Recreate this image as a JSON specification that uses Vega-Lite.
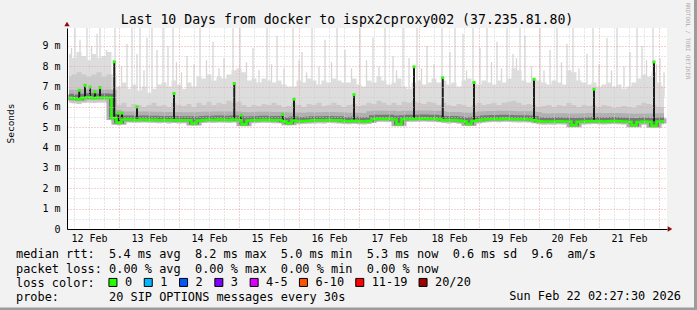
{
"$schema": "https://vega.github.io/schema/vega-lite/v6.json",
"width": 600, "height": 201,
"autosize": {"type": "none"},
"padding": {"left": 67, "top": 28, "right": 30, "bottom": 81},
"background": "#f2f2f2",
"view": {"fill": "#ffffff", "stroke": null},
"resolve": {"axis": {"x": "independent", "y": "independent"}},
"datasets": {
"one": [{}],
"smoke": [
{"t":4,"lo":6.2,"m":6.45,"d":7.5,"hi":8.6},{"t":6,"lo":6.18,"m":6.42,"d":7.6,"hi":8.4},{"t":8,"lo":6.15,"m":6.38,"d":7.7,"hi":8.7},{"t":10,"lo":6.2,"m":6.45,"d":7.6,"hi":8.5},{"t":12,"lo":6.22,"m":6.47,"d":7.5,"hi":8.3},{"t":14,"lo":6.2,"m":6.44,"d":7.6,"hi":8.6},{"t":16,"lo":6.22,"m":6.46,"d":7.7,"hi":8.4},{"t":18,"lo":6.22,"m":6.46,"d":7.5,"hi":8.5},{"t":20,"lo":6.2,"m":6.45,"d":7.6,"hi":8.7},{"t":22,"lo":5.25,"m":5.45,"d":6.6,"hi":7.6},
{"t":24,"lo":5.1,"m":5.22,"d":6.1,"hi":7.0},{"t":26,"lo":5.23,"m":5.38,"d":6.2,"hi":7.2},{"t":28,"lo":5.23,"m":5.38,"d":6.0,"hi":6.9},{"t":30,"lo":5.21,"m":5.36,"d":6.15,"hi":7.1},{"t":32,"lo":5.22,"m":5.37,"d":6.1,"hi":6.8},{"t":34,"lo":5.23,"m":5.38,"d":6.0,"hi":7.0},{"t":36,"lo":5.21,"m":5.36,"d":6.1,"hi":6.7},{"t":38,"lo":5.22,"m":5.37,"d":6.2,"hi":6.9},{"t":40,"lo":5.2,"m":5.35,"d":6.05,"hi":7.1},{"t":42,"lo":5.21,"m":5.36,"d":6.1,"hi":7.2},
{"t":44,"lo":5.19,"m":5.34,"d":6.0,"hi":7.0},{"t":46,"lo":5.21,"m":5.36,"d":6.2,"hi":7.3},{"t":48,"lo":5.18,"m":5.33,"d":6.1,"hi":7.1},{"t":50,"lo":5.2,"m":5.35,"d":6.05,"hi":6.9},{"t":52,"lo":5.19,"m":5.34,"d":6.15,"hi":7.2},{"t":54,"lo":5.08,"m":5.18,"d":6.0,"hi":7.0},{"t":56,"lo":5.18,"m":5.33,"d":6.2,"hi":7.5},{"t":58,"lo":5.21,"m":5.36,"d":6.1,"hi":7.4},{"t":60,"lo":5.22,"m":5.37,"d":6.25,"hi":7.6},{"t":62,"lo":5.21,"m":5.36,"d":6.1,"hi":7.3},
{"t":64,"lo":5.23,"m":5.38,"d":6.2,"hi":7.5},{"t":66,"lo":5.22,"m":5.37,"d":6.15,"hi":7.4},{"t":68,"lo":5.21,"m":5.36,"d":6.3,"hi":7.6},{"t":70,"lo":5.23,"m":5.38,"d":6.2,"hi":7.8},{"t":72,"lo":5.21,"m":5.36,"d":6.25,"hi":7.9},{"t":74,"lo":5.06,"m":5.15,"d":6.1,"hi":7.7},{"t":76,"lo":5.18,"m":5.33,"d":6.0,"hi":7.3},{"t":78,"lo":5.2,"m":5.35,"d":6.1,"hi":7.4},{"t":80,"lo":5.21,"m":5.36,"d":6.05,"hi":7.2},{"t":82,"lo":5.22,"m":5.37,"d":6.15,"hi":7.4},
{"t":84,"lo":5.21,"m":5.36,"d":6.1,"hi":7.3},{"t":86,"lo":5.2,"m":5.35,"d":6.2,"hi":7.2},{"t":88,"lo":5.21,"m":5.36,"d":6.1,"hi":7.3},{"t":90,"lo":5.16,"m":5.3,"d":6.0,"hi":7.1},{"t":92,"lo":5.1,"m":5.2,"d":6.05,"hi":7.0},{"t":94,"lo":5.18,"m":5.33,"d":6.2,"hi":7.0},{"t":96,"lo":5.15,"m":5.3,"d":6.1,"hi":7.3},{"t":98,"lo":5.16,"m":5.31,"d":6.0,"hi":7.2},{"t":100,"lo":5.17,"m":5.32,"d":6.15,"hi":7.4},{"t":102,"lo":5.19,"m":5.34,"d":6.1,"hi":7.3},
{"t":104,"lo":5.2,"m":5.35,"d":6.2,"hi":7.1},{"t":106,"lo":5.19,"m":5.34,"d":6.05,"hi":7.3},{"t":108,"lo":5.21,"m":5.36,"d":6.1,"hi":7.2},{"t":110,"lo":5.2,"m":5.35,"d":6.2,"hi":7.4},{"t":112,"lo":5.19,"m":5.34,"d":6.1,"hi":7.3},{"t":114,"lo":5.16,"m":5.31,"d":6.0,"hi":7.2},{"t":116,"lo":5.15,"m":5.3,"d":6.1,"hi":7.2},{"t":118,"lo":5.17,"m":5.32,"d":6.15,"hi":7.4},{"t":120,"lo":5.15,"m":5.3,"d":6.05,"hi":7.1},{"t":122,"lo":5.14,"m":5.29,"d":6.1,"hi":7.0},
{"t":124,"lo":5.16,"m":5.31,"d":6.2,"hi":7.3},{"t":126,"lo":5.25,"m":5.4,"d":6.15,"hi":7.2},{"t":128,"lo":5.27,"m":5.42,"d":6.3,"hi":7.5},{"t":130,"lo":5.26,"m":5.41,"d":6.2,"hi":7.3},{"t":132,"lo":5.27,"m":5.42,"d":6.1,"hi":7.1},{"t":134,"lo":5.23,"m":5.38,"d":6.2,"hi":7.2},{"t":136,"lo":5.07,"m":5.15,"d":6.1,"hi":7.4},{"t":138,"lo":5.25,"m":5.4,"d":6.25,"hi":7.0},{"t":140,"lo":5.27,"m":5.42,"d":6.2,"hi":6.9},{"t":142,"lo":5.26,"m":5.41,"d":6.3,"hi":7.2},
{"t":144,"lo":5.27,"m":5.42,"d":6.2,"hi":7.3},{"t":146,"lo":5.28,"m":5.43,"d":6.15,"hi":7.1},{"t":148,"lo":5.26,"m":5.41,"d":6.25,"hi":7.2},{"t":150,"lo":5.27,"m":5.42,"d":6.2,"hi":7.4},{"t":152,"lo":5.25,"m":5.4,"d":6.1,"hi":7.2},{"t":154,"lo":5.21,"m":5.36,"d":6.2,"hi":7.3},{"t":156,"lo":5.19,"m":5.34,"d":6.1,"hi":7.1},{"t":158,"lo":5.21,"m":5.36,"d":6.05,"hi":7.2},{"t":160,"lo":5.18,"m":5.33,"d":6.15,"hi":7.0},{"t":162,"lo":5.15,"m":5.3,"d":6.1,"hi":7.3},
{"t":164,"lo":5.08,"m":5.16,"d":6.0,"hi":7.4},{"t":166,"lo":5.17,"m":5.32,"d":6.1,"hi":7.2},{"t":168,"lo":5.19,"m":5.34,"d":6.2,"hi":7.1},{"t":170,"lo":5.23,"m":5.38,"d":6.1,"hi":7.3},{"t":172,"lo":5.25,"m":5.4,"d":6.15,"hi":7.2},{"t":174,"lo":5.26,"m":5.41,"d":6.2,"hi":7.1},{"t":176,"lo":5.25,"m":5.4,"d":6.1,"hi":7.3},{"t":178,"lo":5.27,"m":5.42,"d":6.2,"hi":7.2},{"t":180,"lo":5.26,"m":5.41,"d":6.25,"hi":7.4},{"t":182,"lo":5.25,"m":5.4,"d":6.3,"hi":7.9},
{"t":184,"lo":5.24,"m":5.39,"d":6.2,"hi":7.8},{"t":186,"lo":5.25,"m":5.4,"d":6.1,"hi":7.3},{"t":188,"lo":5.23,"m":5.38,"d":6.15,"hi":7.2},{"t":190,"lo":5.21,"m":5.36,"d":6.1,"hi":7.4},{"t":192,"lo":5.15,"m":5.3,"d":6.0,"hi":7.3},{"t":194,"lo":5.13,"m":5.28,"d":6.05,"hi":7.2},{"t":196,"lo":5.14,"m":5.29,"d":6.1,"hi":7.1},{"t":198,"lo":5.13,"m":5.28,"d":6.0,"hi":7.3},{"t":200,"lo":5.15,"m":5.3,"d":6.1,"hi":7.2},{"t":202,"lo":5.14,"m":5.29,"d":6.05,"hi":7.1},
{"t":204,"lo":5.13,"m":5.28,"d":6.2,"hi":7.8},{"t":206,"lo":5.02,"m":5.1,"d":6.1,"hi":7.7},{"t":208,"lo":5.12,"m":5.27,"d":6.0,"hi":7.3},{"t":210,"lo":5.14,"m":5.29,"d":6.1,"hi":7.2},{"t":212,"lo":5.15,"m":5.3,"d":6.05,"hi":7.1},{"t":214,"lo":5.16,"m":5.31,"d":6.1,"hi":7.2},{"t":216,"lo":5.15,"m":5.3,"d":6.0,"hi":7.0},{"t":218,"lo":5.14,"m":5.29,"d":6.1,"hi":7.1},{"t":220,"lo":5.15,"m":5.3,"d":6.05,"hi":7.2},{"t":222,"lo":5.16,"m":5.31,"d":5.95,"hi":7.0},
{"t":224,"lo":5.15,"m":5.3,"d":6.0,"hi":7.1},{"t":226,"lo":5.14,"m":5.29,"d":6.05,"hi":6.9},{"t":228,"lo":5.12,"m":5.27,"d":6.0,"hi":7.0},{"t":230,"lo":5.02,"m":5.1,"d":5.95,"hi":7.2},{"t":232,"lo":5.11,"m":5.26,"d":6.1,"hi":7.4},{"t":234,"lo":5.13,"m":5.28,"d":6.2,"hi":7.6},{"t":236,"lo":5.12,"m":5.27,"d":6.15,"hi":7.5},{"t":238,"lo":5.0,"m":5.08,"d":6.1,"hi":7.7},{"t":240,"lo":5.13,"m":5.28,"d":6.0,"hi":7.2},{"t":242,"lo":5.15,"m":5.3,"d":6.0,"hi":7.0}
],
"spikes": [
{"t":6.4,"v":10},{"t":8.4,"v":9.3},{"t":11.2,"v":10},{"t":15.2,"v":9.6},{"t":16.4,"v":10},{"t":22.4,"v":10},{"t":27.2,"v":9.1},{"t":29.2,"v":10},{"t":31.2,"v":8.6},{"t":32.4,"v":10},{"t":35.2,"v":9.4},{"t":37.2,"v":10},{"t":39.2,"v":8.8},{"t":41.6,"v":10},{"t":43.6,"v":9.0},{"t":45.6,"v":10},{"t":51.2,"v":8.5},{"t":56.4,"v":10},{"t":61.6,"v":9.2},{"t":69.6,"v":10},{"t":72.4,"v":10},{"t":77.6,"v":8.9},{"t":83.2,"v":10},{"t":87.2,"v":9.5},{"t":93.6,"v":10},{"t":97.2,"v":8.7},{"t":101.2,"v":10},{"t":106.4,"v":9.3},{"t":111.2,"v":10},{"t":114.4,"v":8.8},{"t":120.4,"v":10},{"t":125.6,"v":9.4},{"t":130.4,"v":10},{"t":133.6,"v":8.5},{"t":137.6,"v":10},{"t":143.2,"v":10},{"t":147.2,"v":9.0},{"t":153.2,"v":10},{"t":156.4,"v":8.7},{"t":158.4,"v":10},{"t":161.6,"v":9.6},{"t":165.6,"v":10},{"t":168.4,"v":8.9},{"t":171.2,"v":10},{"t":175.2,"v":9.2},{"t":179.2,"v":10},{"t":181.6,"v":8.6},{"t":184.4,"v":10},{"t":186.4,"v":9.5},{"t":192.4,"v":10},{"t":196.4,"v":8.8},{"t":199.2,"v":10},{"t":203.2,"v":9.1},{"t":205.6,"v":10},{"t":211.2,"v":8.6},{"t":213.6,"v":10},{"t":219.2,"v":9.4},{"t":223.2,"v":10},{"t":228.4,"v":8.7},{"t":231.2,"v":10},{"t":233.2,"v":9.0},{"t":237.6,"v":10},{"t":240.4,"v":8.4},
{"t":5,"v":8.9},{"t":13,"v":9.0},{"t":19,"v":8.8},{"t":25,"v":8.0},{"t":34,"v":7.8},{"t":47,"v":8.2},{"t":49,"v":7.7},{"t":54,"v":8.1},{"t":59,"v":8.3},{"t":64,"v":7.9},{"t":66,"v":8.4},{"t":75,"v":8.2},{"t":80,"v":7.8},{"t":85,"v":8.1},{"t":90,"v":7.9},{"t":96,"v":8.3},{"t":99,"v":7.7},{"t":104,"v":8.0},{"t":109,"v":8.2},{"t":117,"v":7.9},{"t":123,"v":8.3},{"t":128,"v":8.0},{"t":135,"v":7.8},{"t":140,"v":8.4},{"t":145,"v":7.9},{"t":150,"v":8.1},{"t":163,"v":7.8},{"t":173,"v":8.2},{"t":177,"v":7.9},{"t":183,"v":8.4},{"t":189,"v":8.0},{"t":194,"v":7.8},{"t":201,"v":8.2},{"t":208,"v":7.9},{"t":216,"v":8.1},{"t":221,"v":7.8},{"t":226,"v":8.0},{"t":235,"v":8.3},{"t":239,"v":8.1},{"t":242,"v":7.7}
],
"peaks": [
{"t":8.1,"b":6.45,"v":6.82},{"t":10.4,"b":6.45,"v":7.06},{"t":12.4,"b":6.45,"v":6.98},{"t":14.4,"b":6.45,"v":6.74},{"t":16.4,"b":6.45,"v":6.95},{"t":22.1,"b":5.4,"v":8.22},{"t":23.8,"b":5.3,"v":5.69},{"t":25.2,"b":5.3,"v":5.7},{"t":31.2,"b":5.35,"v":6.0},{"t":46.0,"b":5.35,"v":6.66},{"t":70.1,"b":5.35,"v":7.15},{"t":72.8,"b":5.35,"v":5.59},{"t":89.5,"b":5.3,"v":5.62},{"t":94.0,"b":5.3,"v":6.38},{"t":118.0,"b":5.3,"v":6.6},{"t":142.0,"b":5.4,"v":7.97},{"t":153.5,"b":5.4,"v":7.44},{"t":166.0,"b":5.3,"v":7.2},{"t":190.0,"b":5.35,"v":7.36},{"t":214.0,"b":5.3,"v":6.87},{"t":238.0,"b":5.3,"v":8.21}
]
},
"layer": [
{"data": {"name": "spikes"},
 "mark": {"type": "rule", "color": "#d6d6d6", "strokeWidth": 1.3, "clip": true},
 "encoding": {
  "x": {"field": "t", "type": "quantitative", "scale": {"domain": [3.2, 243.2], "nice": false, "zero": false},
   "axis": {"orient": "bottom", "title": null, "zindex": 1, "values": [6,12,18,24,30,36,42,48,54,60,66,72,78,84,90,96,102,108,114,120,126,132,138,144,150,156,162,168,174,180,186,192,198,204,210,216,222,228,234,240],
    "labelExpr": "datum.value % 24 == 12 ? (floor(datum.value/24)+12) + ' Feb' : ''",
    "grid": true, "gridColor": {"condition": {"test": "datum.value % 24 == 0", "value": "#eaa2a2"}, "value": "#cfcfcf"}, "gridDash": [1, 2], "gridWidth": 1,
    "ticks": false, "domainColor": "#000000", "domainWidth": 1,
    "labelFont": "DejaVu Sans Mono", "labelFontSize": 10, "labelColor": "#000000", "labelPadding": 4, "labelOverlap": false, "labelFlush": false, "labelBound": false}},
  "y": {"field": "v", "type": "quantitative", "scale": {"domain": [0, 9.88], "nice": false, "zero": false},
   "axis": {"orient": "left", "title": "Seconds", "zindex": 1, "values": [0,0.5,1,1.5,2,2.5,3,3.5,4,4.5,5,5.5,6,6.5,7,7.5,8,8.5,9,9.5],
    "labelExpr": "datum.value == 0 ? '0' : (datum.value % 1 == 0 ? datum.value + ' m' : '')",
    "grid": true, "gridColor": {"condition": {"test": "datum.value % 1 == 0", "value": "#eaa2a2"}, "value": "#cfcfcf"}, "gridDash": [1, 2], "gridWidth": 1,
    "ticks": false, "domainColor": "#000000", "domainWidth": 1,
    "labelFont": "DejaVu Sans Mono", "labelFontSize": 10, "labelColor": "#000000", "labelPadding": 7,
    "titleX": -57, "titleY": 95, "titleAngle": 270, "titleFont": "DejaVu Sans Mono", "titleFontSize": 9.5, "titleFontWeight": "normal", "titleColor": "#000000", "titleBaseline": "middle", "titleAlign": "center"}},
  "y2": {"datum": 6.5}
 }},
{"data": {"name": "smoke"},
 "mark": {"type": "area", "interpolate": "step", "color": "#dddddd", "clip": true},
 "encoding": {"x": {"field": "t", "type": "quantitative", "axis": null}, "y": {"field": "hi", "type": "quantitative", "axis": null}, "y2": {"field": "lo"}}},
{"data": {"name": "smoke"},
 "mark": {"type": "area", "interpolate": "step", "color": "#cacaca", "clip": true},
 "encoding": {"x": {"field": "t", "type": "quantitative", "axis": null}, "y": {"field": "d", "type": "quantitative", "axis": null}, "y2": {"field": "lo"}}},
{"data": {"name": "smoke"},
 "mark": {"type": "line", "interpolate": "step", "color": "#b0b0b0", "strokeWidth": 10, "yOffset": -3, "clip": true},
 "encoding": {"x": {"field": "t", "type": "quantitative", "axis": null}, "y": {"field": "m", "type": "quantitative", "axis": null}}},
{"data": {"name": "smoke"},
 "mark": {"type": "line", "interpolate": "step", "color": "#777777", "strokeWidth": 5, "yOffset": -1.5, "clip": true},
 "encoding": {"x": {"field": "t", "type": "quantitative", "axis": null}, "y": {"field": "m", "type": "quantitative", "axis": null}}},
{"data": {"name": "peaks"},
 "mark": {"type": "rule", "color": "#1c1c1c", "strokeWidth": 2, "clip": true},
 "encoding": {"x": {"field": "t", "type": "quantitative", "axis": null}, "y": {"field": "v", "type": "quantitative", "axis": null}, "y2": {"field": "b"}}},
{"data": {"name": "smoke"},
 "mark": {"type": "line", "interpolate": "step", "color": "#26ff00", "strokeWidth": 2.5, "clip": true},
 "encoding": {"x": {"field": "t", "type": "quantitative", "axis": null}, "y": {"field": "m", "type": "quantitative", "axis": null}}},
{"data": {"name": "peaks"},
 "mark": {"type": "point", "shape": "square", "filled": true, "size": 9, "opacity": 1, "clip": true},
 "encoding": {"x": {"field": "t", "type": "quantitative", "axis": null}, "y": {"field": "v", "type": "quantitative", "axis": null},
  "color": {"datum": "0", "type": "nominal",
   "scale": {"domain": ["0","1","2","3","4-5","6-10","11-19","20/20"], "range": ["#26ff00","#00b8ff","#0059ff","#7e00ff","#dd00ff","#ff5500","#ff0000","#a10000"]},
   "legend": {"orient": "none", "legendX": 40, "legendY": 248.5, "direction": "horizontal", "columns": 8, "gridAlign": "none", "title": null,
    "symbolType": "square", "symbolSize": 64, "symbolStrokeColor": "#000000", "symbolStrokeWidth": 1, "symbolOpacity": 1,
    "labelFont": "DejaVu Sans Mono", "labelFontSize": 11.9, "labelColor": "#000000", "labelOffset": 6, "columnPadding": 8.3, "padding": 0, "labelLimit": 0,
    "encode": {"symbols": {"update": {"stroke": {"value": "#000000"}, "strokeWidth": {"value": 1}, "opacity": {"value": 1}}}}}}}},
{"data": {"name": "one"},
 "mark": {"type": "text", "align": "center", "baseline": "alphabetic", "font": "DejaVu Sans Mono", "fontSize": 13.2, "color": "#000000"},
 "encoding": {"x": {"datum": 115.2, "type": "quantitative", "axis": null}, "y": {"datum": 10.08, "type": "quantitative", "axis": null}, "text": {"value": "Last 10 Days from docker to ispx2cproxy002 (37.235.81.80)"}}},
{"data": {"name": "one"},
 "mark": {"type": "text", "align": "left", "baseline": "alphabetic", "font": "DejaVu Sans Mono", "fontSize": 11.9, "lineHeight": 14.1, "color": "#000000"},
 "encoding": {"x": {"datum": -17.2, "type": "quantitative", "axis": null}, "y": {"datum": -1.45, "type": "quantitative", "axis": null},
  "text": {"value": ["median rtt:\u00a0\u00a05.4 ms avg\u00a0\u00a08.2 ms max\u00a0\u00a05.0 ms min\u00a0\u00a05.3 ms now\u00a0\u00a00.6 ms sd\u00a0\u00a09.6\u00a0\u00a0am/s", "packet loss: 0.00 % avg\u00a0\u00a00.00 % max\u00a0\u00a00.00 % min\u00a0\u00a00.00 % now", "loss color:", "probe:\u00a0\u00a0\u00a0\u00a0\u00a0\u00a0\u00a020 SIP OPTIONS messages every 30s"]}}},
{"data": {"name": "one"},
 "mark": {"type": "text", "align": "right", "baseline": "alphabetic", "font": "DejaVu Sans Mono", "fontSize": 11.9, "color": "#000000"},
 "encoding": {"x": {"datum": 248.8, "type": "quantitative", "axis": null}, "y": {"datum": -3.51, "type": "quantitative", "axis": null}, "text": {"value": "Sun Feb 22 02:27:30 2026"}}},
{"data": {"name": "one"},
 "mark": {"type": "text", "align": "center", "baseline": "middle", "angle": 90, "font": "DejaVu Sans Mono", "fontSize": 5.8, "color": "#aaaaaa"},
 "encoding": {"x": {"datum": 251.6, "type": "quantitative", "axis": null}, "y": {"datum": 9.24, "type": "quantitative", "axis": null}, "text": {"value": "RRDTOOL / TOBI OETIKER"}}},
{"data": {"name": "one"},
 "mark": {"type": "point", "shape": "triangle-up", "filled": true, "size": 28, "color": "#8b0a0a", "opacity": 1},
 "encoding": {"x": {"datum": 3.2, "type": "quantitative", "axis": null}, "y": {"datum": 10.08, "type": "quantitative", "axis": null}}},
{"data": {"name": "one"},
 "mark": {"type": "point", "shape": "triangle-right", "filled": true, "size": 28, "color": "#8b0a0a", "opacity": 1},
 "encoding": {"x": {"datum": 244.4, "type": "quantitative", "axis": null}, "y": {"datum": 0, "type": "quantitative", "axis": null}}},
{"data": {"name": "one"},
 "mark": {"type": "rule", "color": "#9c9c9c", "strokeWidth": 3},
 "encoding": {"x": {"datum": 254.6, "type": "quantitative", "axis": null}, "y": {"datum": 11.3, "type": "quantitative", "axis": null}, "y2": {"datum": -4.0}}},
{"data": {"name": "one"},
 "mark": {"type": "rule", "color": "#9c9c9c", "strokeWidth": 3},
 "encoding": {"x": {"datum": -23.6, "type": "quantitative", "axis": null}, "x2": {"datum": 255.6}, "y": {"datum": -3.93, "type": "quantitative", "axis": null}}}
]
}
